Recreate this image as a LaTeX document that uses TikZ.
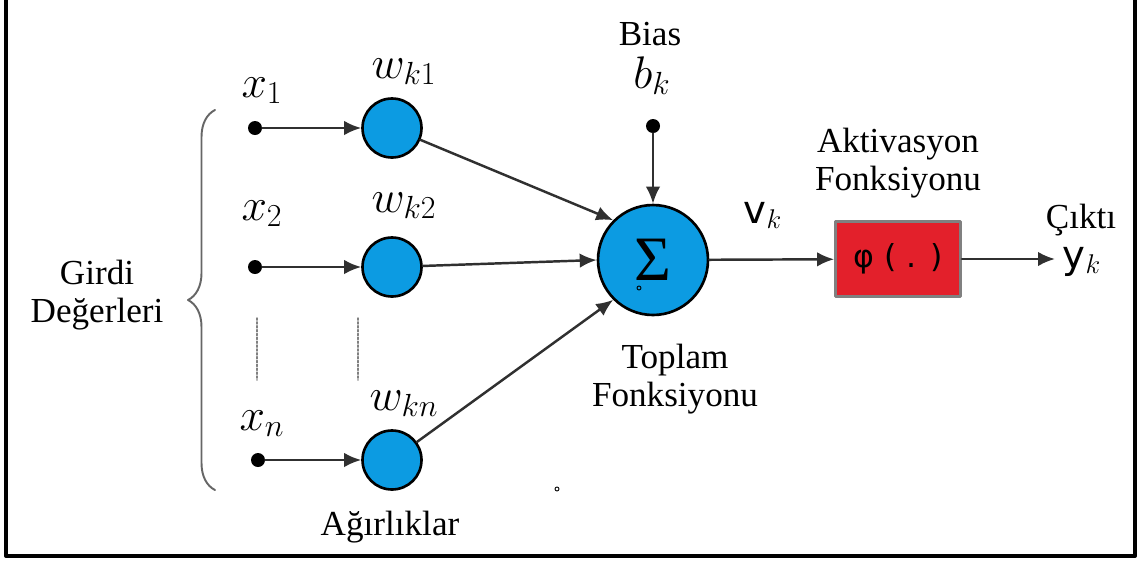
\RequirePackage{fix-cm}
\documentclass[tikz,border=0pt]{standalone}
\usepackage{fontspec}
\setmainfont{Liberation Serif}
\newfontfamily\labelsans{DejaVu Sans}
\usetikzlibrary{arrows.meta,decorations.pathreplacing}
\definecolor{NeuronBlue}{HTML}{0C9BE2}
\definecolor{ActRed}{HTML}{E3202B}
\definecolor{WireGray}{HTML}{303030}

\begin{document}
\begin{tikzpicture}[x=0.02cm,y=-0.02cm,line cap=round,line join=round,
  txt/.style={font=\fontsize{20}{22}\selectfont,inner sep=0pt,align=center},
  sym/.style={font=\fontsize{26}{28}\selectfont,inner sep=0pt},
  dot/.style={circle,fill=black,inner sep=0pt,minimum size=0.28cm},
  weight/.style={circle,draw=black,line width=1.5pt,fill=NeuronBlue,inner sep=0pt,minimum size=1.18cm},
  wire/.style={draw=WireGray,line width=1.4pt,-{Latex[length=3.4mm,width=2.9mm]}}]
  \useasboundingbox (0,0) rectangle (1139,562);
  \draw[line width=2.3pt,line cap=butt] (6,0)--(6,556)--(1135,556)--(1135,0);
  % inputs and weights
  \node[dot] (x1) at (255,128) {};\node[dot] (x2) at (255,267) {};\node[dot] (xn) at (258,460) {};
  \node[weight] (w1) at (392,128) {};\node[weight] (w2) at (392,267) {};\node[weight] (wn) at (392,460) {};
  \node[sym,anchor=base] (lx1) at (262,97) {$x_1$};
  \node[sym,anchor=base] (lx2) at (262,220) {$x_2$};
  \node[sym,anchor=base] (lxn) at (262,430) {$x_n$};
  \node[sym,anchor=base] (lw1) at (404,78) {$w_{k1}$};
  \node[sym,anchor=base] (lw2) at (404,212) {$w_{k2}$};
  \node[sym,anchor=base] (lwn) at (404,410) {$w_{kn}$};
  \draw[gray,line width=0.8pt,dash pattern=on 1.2pt off 1pt] (257,318)--(257,380) (358,318)--(358,380);
  \draw[gray!80!black,line width=1.1pt,decorate,decoration={brace,amplitude=0.54cm}] (215,490)--(215,110);
  \node[txt] (girdi) at (97,295) {Girdi\\Değerleri};
  \node[txt,anchor=base] (agir) at (390,535) {Ağırlıklar};
  % summation
  \node[circle,draw=black,line width=1.5pt,fill=NeuronBlue,minimum size=2.2cm,inner sep=0pt,
    font=\fontsize{36}{38}\selectfont] (sum) at (653,260) {Σ};
  \node[dot] (bias) at (653,126) {};
  \node[txt,anchor=base] (lbias) at (650,45) {Bias};
  \node[sym,anchor=base] (lb) at (652,88) {$b_k$};
  \node[txt] (toplam) at (675,379) {Toplam\\Fonksiyonu};
  % activation
  \node[draw=gray,line width=1.6pt,fill=ActRed,minimum width=2.5cm,minimum height=1.5cm,inner sep=0pt,
    font=\labelsans\fontsize{18}{20}\selectfont] (act) at (898,259) {φ ( . )};
  \node[txt] (aktiv) at (898,163) {Aktivasyon\\Fonksiyonu};
  \coordinate (out) at (1055,259);
  \node[anchor=base,inner sep=0pt,font=\labelsans\fontsize{22}{24}\selectfont] (lv) at (763,223) {v${}_k$};
  \node[txt,anchor=base] (cikti) at (1081,228) {Çıktı};
  \node[anchor=base,inner sep=0pt,font=\labelsans\fontsize{22}{24}\selectfont] (ly) at (1082,268) {y${}_k$};
  % connectors
  \draw[wire] (x1)--(w1);\draw[wire] (x2)--(w2);\draw[wire] (xn)--(wn);
  \draw[wire] (w1)--(sum.135);\draw[wire] (w2)--(sum.west);\draw[wire] (wn)--(sum.225);
  \draw[wire] (bias)--(sum.north);
  \draw[wire] (sum)--(act);\draw[wire] (act)--(out);
  \draw[line width=0.5pt] (639,288) circle (2) (557,489) circle (2);
\end{tikzpicture}
\end{document}
